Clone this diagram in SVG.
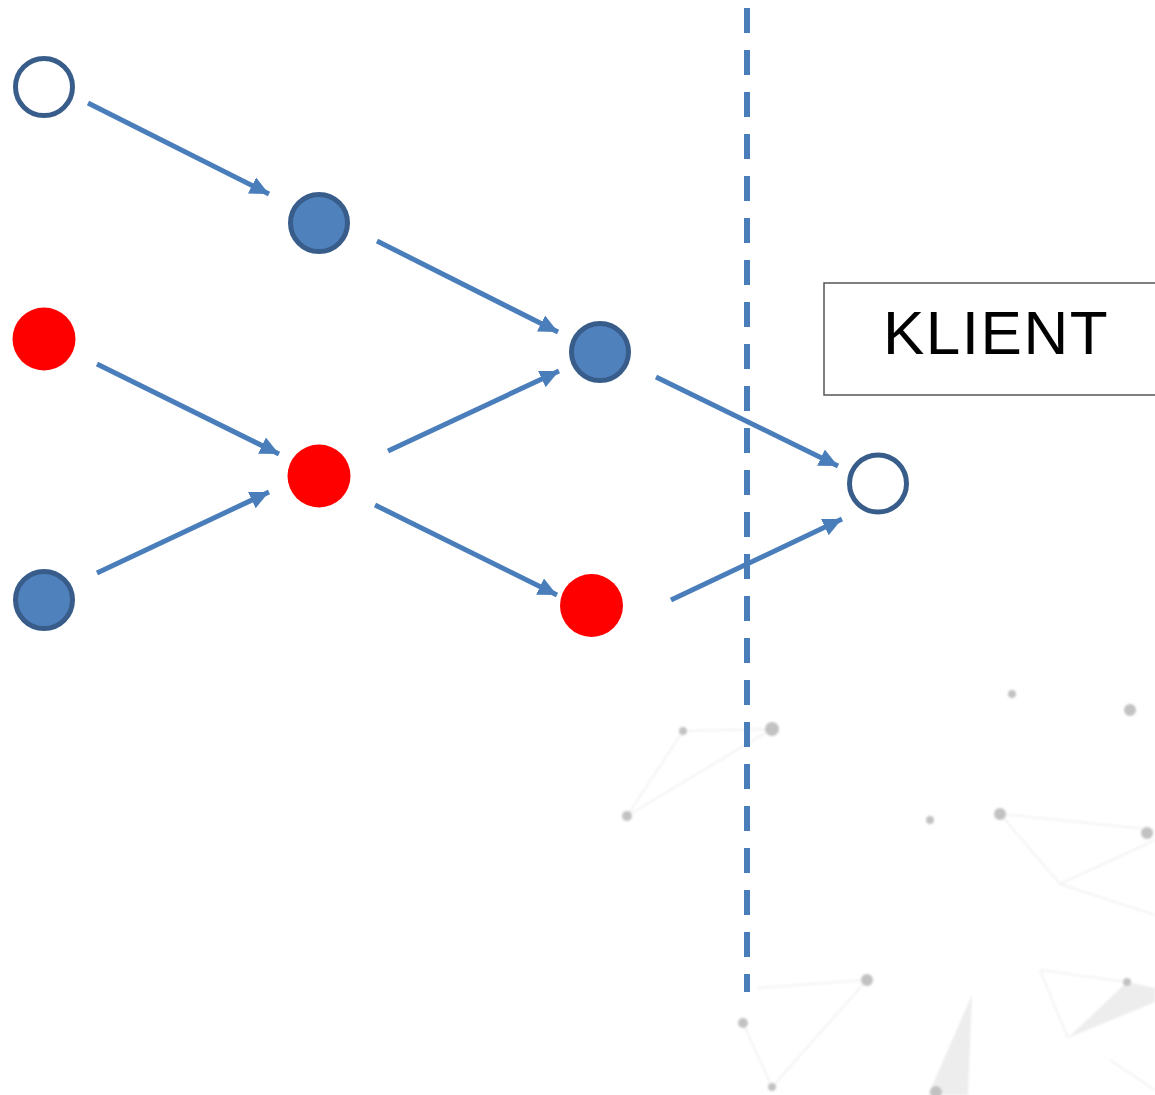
<svg xmlns="http://www.w3.org/2000/svg" width="1155" height="1095" viewBox="0 0 1155 1095">
  <style>
    .open { fill: #ffffff; stroke: #385D8A; stroke-width: 5; }
    .blue { fill: #4F81BD; stroke: #385D8A; stroke-width: 5; }
    .red { fill: #FF0000; stroke: none; }
    .edge { stroke: #4A7EBB; stroke-width: 5; fill: none; marker-end: url(#head); }
    .net-line { stroke: #f3f3f3; stroke-width: 2; fill: none; }
    .net-dot { fill: #c2c2c2; }
    .net-tri { fill: #ededed; }
    .label { font-family: "Liberation Sans", Arial, sans-serif; font-size: 62px; letter-spacing: 1.5px; fill: #000000; }
  </style>
  <defs>
    <marker id="head" markerUnits="userSpaceOnUse" markerWidth="22" markerHeight="20" refX="19" refY="9" orient="auto">
      <path d="M0,0 L19,9 L0,18 Z" fill="#4A7EBB"/>
    </marker>
    <filter id="soft" x="-50%" y="-50%" width="200%" height="200%">
      <feGaussianBlur stdDeviation="1"/>
    </filter>
  </defs>

  <rect width="1155" height="1095" fill="#ffffff"/>

  <!-- faint network pattern in the lower right -->
  <g id="backdrop" filter="url(#soft)">
    <path class="net-line" d="M683,731 L772,729 M683,731 L627,816 M627,816 L772,729"/>
    <path class="net-line" d="M757,988 L867,980 M867,980 L772,1087 M743,1023 L772,1087"/>
    <path class="net-line" d="M1000,814 L1060,884 L1155,840 M1000,814 L1155,830 M1060,884 L1155,915"/>
    <path class="net-line" d="M1040,970 L1127,982 M1040,970 L1068,1038 M1110,1060 L1155,1090"/>
    <path class="net-tri" d="M972,995 L928,1095 L968,1095 Z"/>
    <path class="net-tri" d="M1127,982 L1068,1038 L1155,1002 L1155,988 Z"/>
    <circle class="net-dot" cx="683" cy="731" r="4"/>
    <circle class="net-dot" cx="772" cy="729" r="7"/>
    <circle class="net-dot" cx="627" cy="816" r="5"/>
    <circle class="net-dot" cx="1012" cy="694" r="4"/>
    <circle class="net-dot" cx="1130" cy="710" r="6"/>
    <circle class="net-dot" cx="930" cy="820" r="4"/>
    <circle class="net-dot" cx="1000" cy="814" r="6"/>
    <circle class="net-dot" cx="1147" cy="833" r="6"/>
    <circle class="net-dot" cx="867" cy="980" r="6"/>
    <circle class="net-dot" cx="743" cy="1023" r="5"/>
    <circle class="net-dot" cx="772" cy="1087" r="4"/>
    <circle class="net-dot" cx="1127" cy="982" r="4"/>
    <circle class="net-dot" cx="936" cy="1092" r="6"/>
  </g>

  <!-- boundary line -->
  <line id="boundary" x1="747" y1="8" x2="747" y2="992" stroke="#4A7EBB" stroke-width="6" stroke-dasharray="25 17"/>

  <g id="connectors">
    <line class="edge" x1="88" y1="103" x2="269" y2="194"/>
    <line class="edge" x1="377" y1="241" x2="558" y2="332"/>
    <line class="edge" x1="97" y1="364" x2="279" y2="454"/>
    <line class="edge" x1="97" y1="573" x2="269" y2="492"/>
    <line class="edge" x1="388" y1="451" x2="559" y2="371"/>
    <line class="edge" x1="375" y1="505" x2="557" y2="595"/>
    <line class="edge" x1="656" y1="377" x2="838" y2="466"/>
    <line class="edge" x1="671" y1="600" x2="842" y2="519"/>
  </g>

  <g id="n-top-left"><circle class="open" cx="44" cy="87" r="28.5"/></g>
  <g id="n-upper-blue"><circle class="blue" cx="319" cy="223" r="28.5"/></g>
  <g id="n-left-red"><circle class="red" cx="44" cy="339" r="31.5"/></g>
  <g id="n-bottom-left-blue"><circle class="blue" cx="44" cy="600" r="28.5"/></g>
  <g id="n-mid-red"><circle class="red" cx="319" cy="476" r="31.5"/></g>
  <g id="n-mid-blue"><circle class="blue" cx="600" cy="352" r="28.5"/></g>
  <g id="n-low-red"><circle class="red" cx="591.5" cy="605.5" r="31.5"/></g>
  <g id="n-client"><circle class="open" cx="878" cy="483.5" r="28.5"/></g>

  <g id="klient-box">
    <rect x="824" y="283" width="340" height="112" fill="#ffffff" stroke="#555555" stroke-width="1.5"/>
    <text class="label" x="883" y="354">KLIENT</text>
  </g>
</svg>
